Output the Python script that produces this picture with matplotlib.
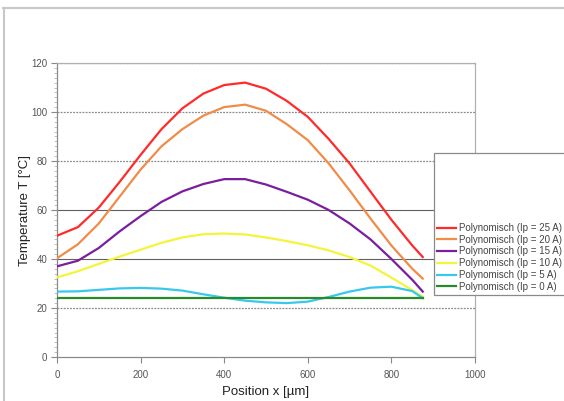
import matplotlib
matplotlib.use("Agg")
import matplotlib.pyplot as plt
from matplotlib.patches import Rectangle
from matplotlib.lines import Line2D
import numpy as np

plt.rcParams['font.family'] = ['Liberation Sans', 'DejaVu Sans']

# Position x [µm]
position = [0, 50, 100, 150, 200, 250, 300, 350, 400, 450, 500, 550, 600, 650,
            700, 750, 800, 850, 875]

temp_25A = [49.5, 53, 61, 71.5, 82.5, 93, 101.5, 107.5, 111, 112, 109.5, 104.5,
            98, 89, 79, 67.5, 56, 45.5, 40.8]
temp_20A = [40.3, 46, 54.5, 65.5, 76.5, 86, 93, 98.5, 102, 103, 100.5, 95,
            88.5, 79, 68, 56.5, 45.5, 36, 32]
temp_15A = [37, 39.3, 44.5, 51.3, 57.5, 63.3, 67.6, 70.6, 72.6, 72.6, 70.4, 67.4,
            64.2, 60, 54.5, 48, 40, 31.5, 26.7]
temp_10A = [32.5, 35, 38, 41, 43.8, 46.6, 48.8, 50.1, 50.4, 50, 48.8, 47.3,
            45.6, 43.5, 40.8, 37.3, 32.4, 27.3, 24.6]
temp_5A = [26.7, 26.8, 27.4, 28, 28.2, 27.9, 27.1, 25.6, 24.2, 23, 22.3, 22,
           22.6, 24.5, 26.7, 28.3, 28.7, 26.9, 24]
temp_0A = [24, 24, 24, 24, 24, 24, 24, 24, 24, 24, 24, 24, 24, 24, 24, 24, 24, 24, 24]

labels = ["Polynomisch (Ip = 25 A)", "Polynomisch (Ip = 20 A)",
          "Polynomisch (Ip = 15 A)", "Polynomisch (Ip = 10 A)",
          "Polynomisch (Ip = 5 A)", "Polynomisch (Ip = 0 A)"]
colors = ["#ff2a2a", "#f08c48", "#7a1e9e", "#f4f43a", "#38c8ec", "#2a8a2a"]
series = [temp_25A, temp_20A, temp_15A, temp_10A, temp_5A, temp_0A]

W, H = 564, 401
fig = plt.figure(figsize=(W / 100, H / 100), dpi=100)
ax = fig.add_axes([57 / W, 1 - 357 / H, (475 - 57) / W, (357 - 63) / H])

# gridlines
for yv in [20, 80, 100, 120]:
    ax.axhline(yv, color="#8a8a8a", lw=0.9, ls=(0, (1.5, 1)), zorder=1)
for yv in [40, 60]:
    ax.axhline(yv, color="#606060", lw=0.8, zorder=1)

handles = []
for s, c, lab in zip(series, colors, labels):
    h, = ax.plot(position, s, color=c, lw=1.6, label=lab, zorder=3,
                 solid_joinstyle='round')
    handles.append(h)

ax.set_xlim(0, 1000)
ax.set_ylim(0, 120)
ax.set_xticks([0, 200, 400, 600, 800, 1000])
ax.set_yticks([0, 20, 40, 60, 80, 100, 120])
ax.set_yticks(np.arange(0, 121, 2), minor=True)
ax.tick_params(axis='both', which='major', labelsize=7, colors='#888888',
               labelcolor='#555555', length=4, width=0.8, direction='out')
ax.tick_params(axis='x', pad=5)
ax.tick_params(axis='y', pad=3)
ax.tick_params(axis='y', which='minor', length=2, width=0.5, colors='#aaaaaa')
for side in ['left', 'bottom']:
    ax.spines[side].set_color('#8a8a8a')
    ax.spines[side].set_linewidth(0.9)
for side in ['top', 'right']:
    ax.spines[side].set_color('#b0b0b0')
    ax.spines[side].set_linewidth(0.9)

ax.set_xlabel("Position x [µm]", fontsize=9.5, color='#222222', labelpad=5)
ax.set_ylabel("Temperature T [°C]", fontsize=9.5, color='#222222', labelpad=0)

# legend box (extends past the right edge)
rect = Rectangle((434 / W, 1 - 295 / H), (580 - 434) / W, (295 - 153) / H,
                 transform=fig.transFigure, facecolor='white', edgecolor='#8a8a8a',
                 lw=0.9, zorder=10)
fig.patches.append(rect)
leg = fig.legend(handles=handles, loc='upper left',
                 bbox_to_anchor=(437 / W, 1 - 223 / H), frameon=False,
                 fontsize=7, handlelength=2.0, handletextpad=0.25,
                 labelspacing=0.18, borderaxespad=0, borderpad=0)
leg.set_zorder(11)
for t in leg.get_texts():
    t.set_color('#444444')

# outer frame
fig.lines.append(Line2D([3 / W, 1], [1 - 8 / H, 1 - 8 / H], transform=fig.transFigure,
                        color='#c8c8c8', lw=1.5))
fig.lines.append(Line2D([4 / W, 4 / W], [0, 1 - 8 / H], transform=fig.transFigure,
                        color='#c8c8c8', lw=1.5))

fig.savefig("out.png", dpi=100)
